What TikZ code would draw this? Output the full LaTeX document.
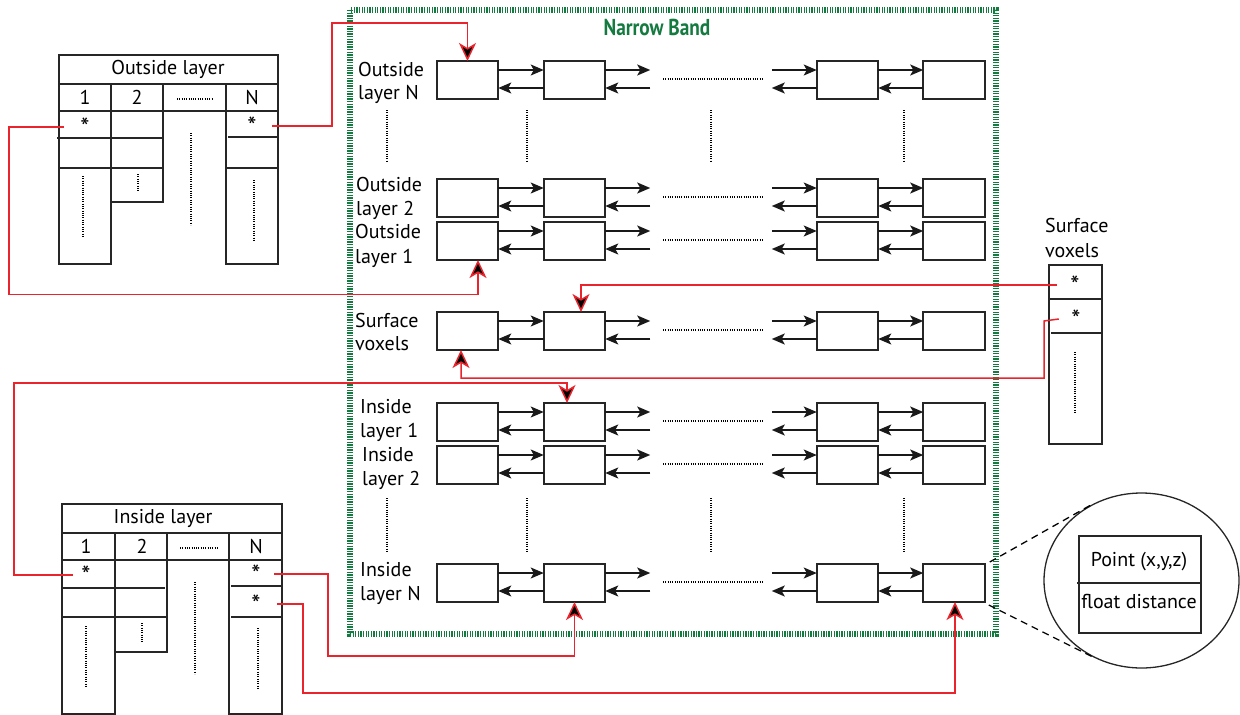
\documentclass[tikz,border=0pt]{standalone}
\usepackage{fontspec}
\setmainfont{PT Sans}
\usetikzlibrary{arrows.meta,shapes.geometric}
\definecolor{nbgreen}{RGB}{20,122,64}
\definecolor{lred}{RGB}{234,36,44}
\begin{document}
\begin{tikzpicture}[x=1pt,y=-1pt,
  font=\fontsize{20}{24}\selectfont,
  cell/.style={draw=black!85, line width=1.6pt, minimum width=61.5pt, minimum height=38pt, inner sep=0pt, outer sep=0pt},
  fwd/.style={line width=1.5pt, draw=black!90, -{Stealth[length=13pt,width=11pt,inset=3pt]}},
  link/.style={draw=lred, line width=1.5pt, -{Stealth[length=18pt,width=17pt,inset=5pt,fill=black]}},
  tline/.style={line width=1.5pt, draw=black!85},
  dots/.style={line width=1.2pt, dash pattern=on 1pt off 1.3pt},
  lbl/.style={anchor=base west, inner sep=0pt},
  txt/.style={inner sep=0pt},
  star/.style={inner sep=0pt, font=\fontsize{26}{26}\selectfont},
  band/.style={draw=nbgreen, line width=6pt, dash pattern=on 1.3pt off 1.3pt},
]
\useasboundingbox (0,0) rectangle (1240,715);

% Narrow band frame
\draw[band] (350,10) rectangle (996,634);
\node[txt, text=nbgreen, font=\fontsize{23}{23}\selectfont\bfseries] (nb) at (657,27) {\scalebox{0.84}[1]{Narrow Band}};

% rows of linked boxes
\foreach \r/\t in {oN/61, oB/179, oA/222, sf/312, iA/403, iB/446, iN/564} {
  \node[cell] (\r1) at (467.5,\t+19) {};
  \node[cell] (\r2) at (574.5,\t+19) {};
  \node[cell] (\r3) at (847.5,\t+19) {};
  \node[cell] (\r4) at (954,\t+19) {};
  \draw[fwd] ([yshift=-9pt]\r1.north east) -- ([yshift=-9pt]\r2.north west);
  \draw[fwd] ([yshift=-27pt]\r2.north west) -- ([yshift=-27pt]\r1.north east);
  \draw[fwd] ([yshift=-9pt]\r2.north east) -- ++(45,0);
  \draw[fwd] ([shift={(45,27)}]\r2.north east) -- ([yshift=-27pt]\r2.north east);
  \draw[fwd] ([shift={(-45,9)}]\r3.north west) -- ([yshift=-9pt]\r3.north west);
  \draw[fwd] ([yshift=-27pt]\r3.north west) -- ++(-45,0);
  \draw[fwd] ([yshift=-9pt]\r3.north east) -- ([yshift=-9pt]\r4.north west);
  \draw[fwd] ([yshift=-27pt]\r4.north west) -- ([yshift=-27pt]\r3.north east);
  \draw[dots] (663,\t+18) -- (762,\t+18);
}

% row labels
\node[lbl] (lN1) at (358,76) {Outside};
\node[lbl] (lN2) at (358,99) {layer N};
\node[lbl] (lB1) at (356,191) {Outside};
\node[lbl] (lB2) at (356,215) {layer 2};
\node[lbl] (lA1) at (355,238) {Outside};
\node[lbl] (lA2) at (355,263) {layer 1};
\node[lbl] (lS1) at (355,327) {Surface};
\node[lbl] (lS2) at (355,350) {voxels};
\node[lbl] (lI1) at (360,413) {Inside};
\node[lbl] (lI2) at (360,437) {layer 1};
\node[lbl] (lJ1) at (362,461) {Inside};
\node[lbl] (lJ2) at (362,485) {layer 2};
\node[lbl] (lK1) at (360,576) {Inside};
\node[lbl] (lK2) at (360,600) {layer N};

% vertical ellipsis dots inside band
\foreach \x in {387,527,711,904} {
  \draw[dots] (\x,110) -- (\x,162);
  \draw[dots] (\x,498) -- (\x,552);
}

% Outside layer table
\draw[tline] (59,55) rectangle (278,84);
\node[txt] (ot) at (168,69.5) {Outside layer};
\draw[tline] (59,84) rectangle (278,111);
\draw[tline] (59,111) rectangle (111,264);
\draw[tline] (111,84) -- (111,111);
\draw[tline] (111,111) rectangle (163,202);
\draw[tline] (163,84) -- (163,111);
\draw[tline] (226,84) -- (226,111);
\draw[tline] (226,111) rectangle (278,264);
\draw[tline] (57,138) -- (162,138);
\draw[tline] (59,168) -- (163,168);
\draw[tline] (228,137) -- (278,137);
\draw[tline] (226,168) -- (278,168);
\node[txt] (oh1) at (85,97.5) {1};
\node[txt] (oh2) at (137,97.5) {2};
\node[txt] (ohN) at (252,97.5) {N};
\draw[dots] (177,99) -- (213,99);
\draw[dots] (83,176) -- (83,238);
\draw[dots] (138,174) -- (138,192);
\draw[dots] (191,133) -- (191,225);
\draw[dots] (254,180) -- (254,240);
\node[star, minimum width=42pt] (os1) at (85,127) {*};
\node[star, minimum width=40pt] (osN) at (252,126) {*};

% Inside layer table
\draw[tline] (62,504) rectangle (282,533);
\node[txt] (it) at (163,518.5) {Inside layer};
\draw[tline] (62,533) rectangle (282,560);
\draw[tline] (62,560) rectangle (115,714);
\draw[tline] (115,533) -- (115,560);
\draw[tline] (115,560) rectangle (167,652);
\draw[tline] (167,533) -- (167,560);
\draw[tline] (229,533) -- (229,560);
\draw[tline] (229,560) rectangle (282,714);
\draw[tline] (61,588) -- (165,588);
\draw[tline] (62,617) -- (167,617);
\draw[tline] (231,586) -- (282,586);
\draw[tline] (231,617) -- (282,617);
\node[txt] (ih1) at (86,546.5) {1};
\node[txt] (ih2) at (142,546.5) {2};
\node[txt] (ihN) at (256,546.5) {N};
\draw[dots] (180,548) -- (218,548);
\draw[dots] (86,626) -- (86,687);
\draw[dots] (142,623) -- (142,642);
\draw[dots] (195,582) -- (195,674);
\draw[dots] (258,628) -- (258,690);
\node[star, minimum width=26pt] (is1) at (86,575) {*};
\node[star, minimum width=36pt] (isN1) at (256,574) {*};
\node[star, minimum width=42pt] (isN2) at (256,604) {*};

% Surface voxels table
\node[lbl] (sv1) at (1045,232) {Surface};
\node[lbl] (sv2) at (1045,257) {voxels};
\draw[tline] (1049,265) rectangle (1102,444);
\draw[tline] (1049,299) -- (1102,299);
\draw[tline] (1051,333) -- (1102,333);
\draw[dots] (1075,352) -- (1075,412);
\node[star, minimum width=36pt] (ss1) at (1075,285) {*};
\node[star, minimum width=34pt] (ss2) at (1076,319) {*};

% red links
\draw[link] (os1.west) -- (9,127) -- (9,294.5) -| ([xshift=10.5pt]oA1.south);
\draw[link] (osN.east) -- (332,126) -- (332,23) -| (oN1.north);
\draw[link] (ss1.west) -| ([xshift=6.5pt]sf2.north);
\draw[link] (ss2.west) -- (1044,321) -- (1044,378) -| ([xshift=-6.5pt]sf1.south);
\draw[link] (is1.west) -- (14,575) -- (14,383) -| ([xshift=-7.5pt]iA2.north);
\draw[link] (isN1.east) -- (328,574) -- (328,656) -| (iN2.south);
\draw[link] (isN2.east) -- (303,604) -- (303,693) -| ([xshift=1pt]iN4.south);

% magnified element
\node[ellipse, draw=black!85, line width=1.3pt, minimum width=195pt, minimum height=175pt, inner sep=0pt] (lens) at (1141.5,580.5) {};
\draw[tline] (1079,536) rectangle (1201,633);
\draw[tline] (1077,583) -- (1201,583);
\node[txt] (pt) at (1139,562) {Point (x,y,z)};
\node[txt] (fd) at (1139,601) {float distance};
\draw[line width=1.3pt, dash pattern=on 7pt off 5pt] ([shift={(5,-2)}]iN4.north east) -- (lens.124);
\draw[line width=1.3pt, dash pattern=on 7pt off 5pt] ([shift={(4,3)}]iN4.south east) -- (lens.-123);
\end{tikzpicture}
\end{document}
